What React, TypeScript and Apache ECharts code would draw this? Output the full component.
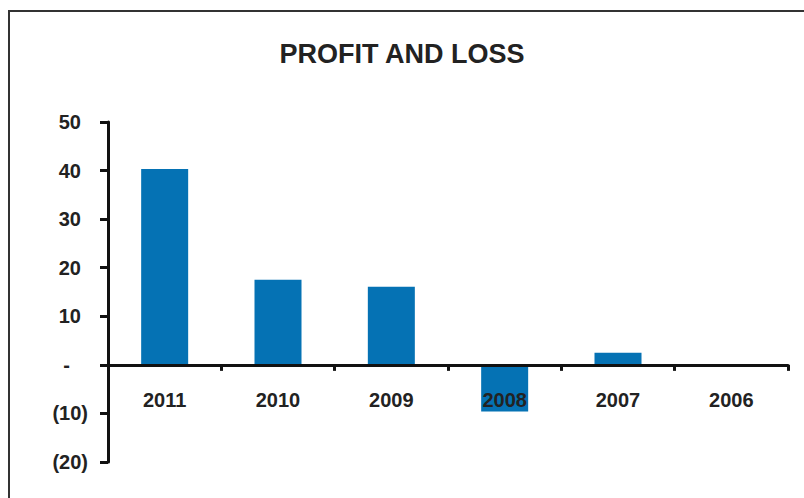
import React, { useEffect, useRef } from "react";
import * as echarts from "echarts";

const TITLE = "PROFIT AND LOSS";
const CATEGORIES = ["2011", "2010", "2009", "2008", "2007", "2006"];
const PROFIT = [40.3, 17.5, 16.1, -9.6, 2.5, -0.3];
const Y_MIN = -20;
const Y_MAX = 50;
const Y_STEP = 10;

const FONT = "'Liberation Sans', Arial, sans-serif";
const TEXT = "#222222";
const BAR = "#0572b4";

function fmt(v: number): string {
  if (v === 0) return "{dash|-}";
  if (v < 0) return "{neg|(" + Math.abs(v) + ")}";
  return "{pos|" + v + "}";
}

export default function App() {
  const ref = useRef<HTMLDivElement>(null);
  useEffect(() => {
    if (!ref.current) return;
    const chart = echarts.init(ref.current, undefined, { renderer: "svg" });
    const labelBase = { fontFamily: FONT, fontWeight: "bold" as const, fontSize: 20, color: TEXT };
    chart.setOption({
      animation: false,
      backgroundColor: "#ffffff",
      title: {
        text: TITLE,
        left: "center",
        top: 35,
        textStyle: { fontFamily: FONT, fontWeight: "bold", fontSize: 27, color: TEXT },
      },
      graphic: [
        {
          type: "rect",
          shape: { x: 9, y: 11, width: 800, height: 500 },
          style: { fill: "none", stroke: "#333333", lineWidth: 2 },
          silent: true,
        },
      ],
      grid: {
        left: 108,
        right: 16,
        top: 122,
        bottom: 36,
        containLabel: false,
        outerBoundsMode: "none",
      },
      xAxis: {
        type: "category",
        data: CATEGORIES,
        z: 10,
        axisLine: { show: true, onZero: true, lineStyle: { color: "#111111", width: 3 } },
        axisTick: { show: true, length: 6, interval: 0, lineStyle: { color: "#111111", width: 3 } },
        axisLabel: { ...labelBase, margin: -72, interval: 0 },
        splitLine: { show: false },
      },
      yAxis: {
        type: "value",
        min: Y_MIN,
        max: Y_MAX,
        interval: Y_STEP,
        axisLine: { show: true, onZero: false, lineStyle: { color: "#111111", width: 3 } },
        axisTick: { show: true, length: 8, lineStyle: { color: "#111111", width: 3 } },
        splitLine: { show: false },
        axisLabel: {
          ...labelBase,
          margin: 20,
          formatter: (v: number) => fmt(v),
          rich: {
            pos: { ...labelBase, padding: [0, 7, 0, 0] },
            neg: { ...labelBase },
            dash: { ...labelBase, padding: [0, 18, 0, 0] },
          },
        },
      },
      series: [
        {
          type: "bar",
          data: PROFIT,
          barWidth: 47,
          itemStyle: { color: BAR },
        },
      ],
    });
    return () => chart.dispose();
  }, []);
  return (
    <div
      ref={ref}
      style={{ position: "fixed", left: 0, top: 0, width: 804, height: 498 }}
    />
  );
}
